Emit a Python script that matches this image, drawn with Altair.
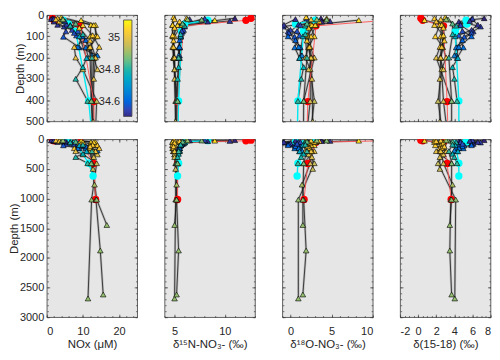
import altair as alt
import pandas as pd

# ---------------- data ----------------
B1_depth = [15, 31, 54, 77, 102, 152, 190]
B1_sal = [34.50, 34.52, 34.55, 34.56, 34.58, 34.60, 34.63]
B1_nox = [1.6, 2.0, 4.8, 5.3, 4.6, 9.0, 14.0]
B1_d15 = [11.0, 8.3, 6.0, 5.8, 5.6, 5.5, 5.5]
B1_d18 = [3.7, 3.8, -0.9, -0.3, 0.5, 1.1, 1.3]
B1_dd = [7.3, 4.5, 6.9, 6.1, 5.1, 4.4, 4.2]

B2_depth = [19, 46, 70, 96, 152, 202]
B2_sal = [34.52, 34.53, 34.55, 34.58, 34.62, 34.70]
B2_nox = [1.2, 3.0, 7.0, 8.2, 10.8, 11.5]
B2_d15 = [6.5, 5.8, 5.9, 5.6, 5.5, 5.4]
B2_d18 = [0.6, -0.8, 0.0, 1.1, 0.5, 1.1]
B2_dd = [5.9, 6.6, 5.9, 4.5, 5.0, 4.3]

B3_depth = [17, 45, 84, 118, 152, 190]
B3_sal = [34.55, 34.54, 34.57, 34.60, 34.62, 34.66]
B3_nox = [2.0, 5.5, 7.6, 10.8, 11.8, 12.5]
B3_d15 = [8.0, 5.6, 5.7, 5.5, 5.4, 5.4]
B3_d18 = [2.0, 0.95, -0.2, 0.6, 1.2, 1.4]
B3_dd = [6.0, 4.65, 5.9, 4.9, 4.2, 4.0]

B4_depth = [28, 47, 75, 100, 150]
B4_sal = [34.53, 34.55, 34.57, 34.60, 34.63]
B4_nox = [5.0, 6.5, 8.6, 9.8, 8.6]
B4_d15 = [10.5, 5.9, 5.7, 5.6, 5.5]
B4_d18 = [4.8, 1.2, 0.8, -0.3, 1.0]
B4_dd = [5.7, 4.7, 4.9, 5.9, 4.5]

Y1_depth = [10, 46, 100, 150, 200, 255, 404, 1017, 2685]
Y1_sal = [35.05, 35.06, 35.05, 35.03, 35.00, 34.98, 34.95, 34.90, 34.90]
Y1_nox = [4.0, 12.2, 12.0, 7.6, 8.0, 10.0, 13.8, 12.4, 11.4]
Y1_d15 = [4.9, 4.8, 4.8, 4.9, 4.9, 5.0, 5.1, 5.1, 5.0]
Y1_d18 = [1.9, 2.4, 2.9, 2.2, 1.8, 2.4, 2.9, 0.95, 0.95]
Y1_dd = [3.0, 2.4, 1.9, 2.7, 3.1, 2.6, 2.2, 4.15, 4.05]

Y2_depth = [24, 47, 100, 152, 202, 404, 765, 1017, 1876, 2618]
Y2_sal = [35.07, 35.06, 35.05, 35.04, 35.02, 34.97, 34.92, 34.90, 34.90, 34.90]
Y2_nox = [9.5, 13.5, 13.5, 11.8, 12.0, 12.3, 13.2, 13.6, 14.8, 15.6]
Y2_d15 = [9.0, 5.3, 4.9, 4.9, 4.9, 5.2, 5.2, 5.2, 5.4, 5.2]
Y2_d18 = [8.3, 2.6, 2.2, 2.2, 2.4, 2.4, 1.4, 1.6, 1.9, 1.5]
Y2_dd = [0.7, 2.7, 2.7, 2.7, 2.5, 2.8, 3.8, 3.6, 3.5, 3.7]

Y3_depth = [15, 47, 100, 150, 200, 404, 1017, 1446]
Y3_sal = [35.04, 35.05, 35.04, 35.03, 35.00, 34.93, 34.90, 34.90]
Y3_nox = [3.0, 13.0, 14.0, 12.0, 13.0, 12.5, 13.8, 16.6]
Y3_d15 = [6.2, 5.7, 5.0, 4.8, 4.9, 5.3, 5.2, 5.0]
Y3_d18 = [4.4, 3.1, 2.5, 2.4, 2.9, 1.6, 1.5, 1.5]
Y3_dd = [1.8, 2.6, 2.5, 2.4, 2.0, 3.7, 3.7, 3.5]

Y4_depth = [20, 47, 95, 150, 202, 255]
Y4_sal = [35.02, 35.05, 35.04, 35.03, 35.01, 34.98]
Y4_nox = [2.5, 10.0, 12.7, 14.5, 13.0, 14.0]
Y4_d15 = [5.0, 4.8, 4.8, 4.9, 5.0, 5.0]
Y4_d18 = [2.5, 3.0, 2.0, 2.3, 2.6, 2.2]
Y4_dd = [2.5, 1.8, 2.8, 2.6, 2.4, 2.8]

Y5_depth = [30, 60, 120, 200, 300, 500]
Y5_sal = [35.03, 35.04, 35.03, 35.01, 34.98, 34.95]
Y5_nox = [3.5, 9.0, 12.0, 13.5, 13.0, 12.8]
Y5_d15 = [5.5, 5.0, 4.9, 5.0, 5.0, 5.1]
Y5_d18 = [3.5, 2.2, 2.0, 2.5, 2.6, 2.7]
Y5_dd = [2.0, 2.8, 2.9, 2.5, 2.4, 2.4]

G1_depth = [21, 50, 100, 202, 245, 300, 404]
G1_sal = [34.88, 34.80, 34.75, 34.75, 34.78, 34.80, 34.82]
G1_nox = [4.2, 6.5, 9.0, 11.0, 10.0, 8.0, 11.3]
G1_d15 = [7.7, 6.0, 5.6, 5.5, 5.4, 5.3, 5.2]
G1_d18 = [4.4, 1.8, 1.5, 1.1, 1.6, 1.3, 0.9]
G1_dd = [3.3, 4.2, 4.1, 4.4, 3.8, 4.0, 4.3]

G2_depth = [20, 40, 90, 200, 404]
G2_sal = [34.90, 34.85, 34.80, 34.82, 34.88]
G2_nox = [4.5, 8.0, 10.0, 12.5, 12.3]
G2_d15 = [6.3, 5.8, 5.6, 5.4, 5.3]
G2_d18 = [3.2, 2.0, 1.8, 2.0, 1.6]
G2_dd = [3.1, 3.8, 3.8, 3.4, 3.7]

RED_depth = [15, 25, 51, 407, 1017]
RED_nox = [1.6, 2.0, 9.3, 13.0, 13.5]
RED_d15 = [12.6, 12.1, 5.9, 5.3, 5.3]
RED_d18 = [12.3, 11.6, 3.1, 2.1, 1.65]
RED_dd = [0.3, 0.5, 2.8, 3.2, 3.65]

CYAN_depth = [24, 42, 77, 404, 620]
CYAN_nox = [4.5, 6.0, 8.0, 11.6, 12.8]
CYAN_d15 = [8.3, 6.0, 5.7, 5.4, 5.3]
CYAN_d18 = [3.0, 0.6, 1.6, 0.9, 0.8]
CYAN_dd = [5.3, 5.4, 4.1, 4.5, 4.5]

# colorbar tick labels (salinity)
CB_TICKS = [34.6, 34.8, 35.0]

# ---------------- table ----------------
rows = []
def add(name, kind, depth, nox, d15, d18, dd, sal=None):
    for k in range(len(depth)):
        rows.append(dict(station=name, kind=kind, depth=depth[k], NOx=nox[k],
                         d15N=d15[k], d18O=d18[k], D=dd[k],
                         sal=(sal[k] if sal is not None else None)))

add("B1", "tri", B1_depth, B1_nox, B1_d15, B1_d18, B1_dd, B1_sal)
add("B2", "tri", B2_depth, B2_nox, B2_d15, B2_d18, B2_dd, B2_sal)
add("B3", "tri", B3_depth, B3_nox, B3_d15, B3_d18, B3_dd, B3_sal)
add("B4", "tri", B4_depth, B4_nox, B4_d15, B4_d18, B4_dd, B4_sal)
add("Y1", "tri", Y1_depth, Y1_nox, Y1_d15, Y1_d18, Y1_dd, Y1_sal)
add("Y2", "tri", Y2_depth, Y2_nox, Y2_d15, Y2_d18, Y2_dd, Y2_sal)
add("Y3", "tri", Y3_depth, Y3_nox, Y3_d15, Y3_d18, Y3_dd, Y3_sal)
add("Y4", "tri", Y4_depth, Y4_nox, Y4_d15, Y4_d18, Y4_dd, Y4_sal)
add("Y5", "tri", Y5_depth, Y5_nox, Y5_d15, Y5_d18, Y5_dd, Y5_sal)
add("G1", "tri", G1_depth, G1_nox, G1_d15, G1_d18, G1_dd, G1_sal)
add("G2", "tri", G2_depth, G2_nox, G2_d15, G2_d18, G2_dd, G2_sal)
add("RED", "red", RED_depth, RED_nox, RED_d15, RED_d18, RED_dd)
add("CYAN", "cyan", CYAN_depth, CYAN_nox, CYAN_d15, CYAN_d18, CYAN_dd)
df = pd.DataFrame(rows)
cb_df = pd.DataFrame({"s": CB_TICKS})

# ---------------- panel settings ----------------
VARS = ["NOx", "d15N", "d18O", "D"]
XDOM = [[0, 25], [4, 13], [-1, 10], [-2, 8]]
XMAJ = [[0, 10, 20], [5, 10], [0, 5, 10], [-2, 0, 2, 4, 6, 8]]
XMIN = [list(range(0, 26, 2)), list(range(4, 14)), list(range(-1, 11)),
        [v / 2 for v in range(-4, 17)]]
XTITLE = ["NOx (μM)", "δ¹⁵N-NO₃- (‰)", "δ¹⁸O-NO₃- (‰)", "δ(15-18) (‰)"]
YMAX = [500, 3000]
YMAJ = [list(range(0, 501, 100)), list(range(0, 3001, 500))]
YMIN = [list(range(0, 501, 20)), list(range(0, 3001, 100))]
HEIGHT = [107, 179]
WIDTH = 91

SAL_DOM = [34.51, 35.11]
SAL_STOPS = [34.51, 34.585, 34.66, 34.735, 34.81, 34.885, 34.96, 35.035, 35.11]
PARULA = ["#352a87", "#0f5cdd", "#1481d6", "#06a4ca", "#2eb7a4",
          "#87bf77", "#d1bb59", "#fec832", "#f9fb0e"]
cscale = alt.Scale(domain=SAL_STOPS, range=PARULA)

CB_X, CB_Y, CB_LEN, CB_W = 77.3, 5, 97, 8.4

LBL = "datum.value + ''"


def neg(v):
    return alt.ExprRef(expr=str(v))


def panel(i, r):
    v = VARS[i]
    xs = alt.Scale(domain=XDOM[i], nice=False, zero=False)
    ys = alt.Scale(domain=[0, YMAX[r]], reverse=True, nice=False, zero=False)
    xkw = dict(orient="bottom", values=XMAJ[i], tickSize=3, offset=neg(-3),
               domain=False, grid=False)
    if r == 1:
        xkw.update(labels=True, title=XTITLE[i], labelExpr=LBL,
                   labelPadding=8, titlePadding=3)
    else:
        xkw.update(labels=False, title=None)
    ykw = dict(orient="left", values=YMAJ[r], tickSize=3, offset=neg(-3),
               domain=False, grid=False)
    if i == 0:
        ykw.update(labels=True, title="Depth (m)", labelExpr=LBL,
                   labelPadding=3, titlePadding=0)
    else:
        ykw.update(labels=False, title=None)

    def enc(xax, yax):
        return dict(x=alt.X(f"{v}:Q", scale=xs, axis=xax),
                    y=alt.Y("depth:Q", scale=ys, axis=yax))

    base = alt.Chart(df)
    tri = base.transform_filter(alt.datum.kind == "tri")
    red = base.transform_filter(alt.datum.kind == "red")
    cyan = base.transform_filter(alt.datum.kind == "cyan")

    halo = tri.mark_line(color="#8a8a8a", strokeWidth=2.4, opacity=0.45,
                         clip=True).encode(
        **enc(alt.Axis(**xkw), alt.Axis(**ykw)),
        detail="station:N", order="depth:Q")
    lines = tri.mark_line(color="#1a1a1a", strokeWidth=0.8, clip=True).encode(
        **enc(None, None), detail="station:N", order="depth:Q")
    rline = red.mark_line(color="#ff5050", strokeWidth=0.9, clip=True).encode(
        **enc(None, None), order="depth:Q")
    cline = cyan.mark_line(color="#00e8f0", strokeWidth=1.4, clip=True).encode(
        **enc(None, None), order="depth:Q")
    if i == 0 and r == 0:
        leg = alt.Legend(orient="none", legendX=CB_X, legendY=CB_Y,
                         direction="vertical", gradientLength=CB_LEN,
                         gradientThickness=CB_W, title=None,
                         values=CB_TICKS, labelExpr="''", labelOpacity=0,
                         gradientStrokeColor="#444",
                         gradientStrokeWidth=0.8, padding=0)
    else:
        leg = None
    pts = tri.mark_point(shape="triangle-up", filled=True, size=32,
                         stroke="black", strokeWidth=0.6, opacity=1,
                         clip=True).encode(
        **enc(None, None),
        color=alt.Color("sal:Q", scale=cscale, legend=leg))
    rpts = red.mark_circle(color="#ff0000", size=55, opacity=1,
                           clip=True).encode(**enc(None, None))
    cpts = cyan.mark_circle(color="#00ffff", size=55, opacity=1,
                            clip=True).encode(**enc(None, None))

    def ticks(xo, yo, xv, yv, sz):
        return base.mark_point(opacity=0, clip=True).encode(
            **enc(alt.Axis(orient=xo, values=xv, labels=False, title=None,
                           tickSize=sz, offset=neg(-sz), domain=False, grid=False),
                  alt.Axis(orient=yo, values=yv, labels=False, title=None,
                           tickSize=sz, offset=neg(-sz), domain=False, grid=False)))

    t1 = ticks("top", "right", XMAJ[i], YMAJ[r], 3)
    t2 = ticks("bottom", "left", XMIN[i], YMIN[r], 1.6)
    t3 = ticks("top", "right", XMIN[i], YMIN[r], 1.6)

    inner = alt.layer(halo, lines, rline, cline, rpts, cpts, pts, t1, t2, t3).resolve_axis(
        x="independent", y="independent")

    if i == 0 and r == 0:
        # colorbar labels: an axis on the salinity scale placed beside the colour bar
        cb = alt.Chart(cb_df).mark_point(opacity=0).encode(
            y=alt.Y("s:Q",
                    scale=alt.Scale(domain=SAL_DOM, range=[CB_Y + CB_LEN, CB_Y],
                                    nice=False, zero=False),
                    axis=alt.Axis(orient="left", values=CB_TICKS, labelExpr=LBL,
                                  tickSize=2, offset=neg(-(CB_X + 2)),
                                  labelPadding=4, domain=False, grid=False,
                                  title=None)))
        out = alt.layer(inner, cb).resolve_scale(y="independent").resolve_axis(
            y="independent")
    else:
        out = inner
    return out.properties(width=WIDTH, height=HEIGHT[r])


panels = [panel(i, r) for r in range(2) for i in range(4)]

chart = alt.concat(*panels, columns=4, spacing={"row": 18, "column": 27.5},
                   bounds="flush").resolve_scale(color="independent").properties(
    padding={"left": 0, "top": -1, "right": 0, "bottom": 0},
    background="white"
).configure_view(fill="#e6e6e6", stroke="#3c3c3c", strokeWidth=0.8).configure_axis(
    labelFont="Liberation Sans", titleFont="Liberation Sans",
    labelFontSize=11, titleFontSize=11.5, titleFontWeight="normal",
    labelColor="#262626", titleColor="#262626", tickColor="#3c3c3c",
    tickWidth=0.7
).configure_legend(labelFont="Liberation Sans", labelColor="#262626")

chart.save("out.html", embed_options={"renderer": "svg", "actions": False})
